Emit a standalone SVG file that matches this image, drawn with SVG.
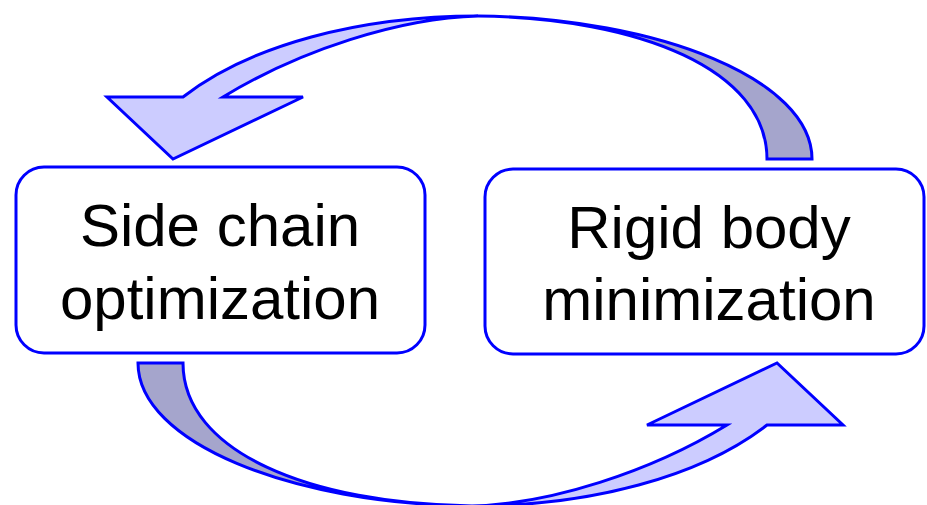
<svg xmlns="http://www.w3.org/2000/svg" width="927" height="505" viewBox="0 0 927 505">
<style>
.box{fill:#ffffff;stroke:#0000ff;stroke-width:3}
.lbl{font-family:"Liberation Sans",Arial,sans-serif;font-size:60px;fill:#000000;text-anchor:middle}
.light{fill:#ccccff;stroke:#0000ff;stroke-width:3;stroke-linejoin:miter}
.dark{fill:#a5a5cc;stroke:#0000ff;stroke-width:3;stroke-linejoin:miter}
</style>
<defs>
<g id="cyc">
<path class="dark" d="M478,16 C660,18 812,80 812,159 L767,159 C767,70 640,18 478,16 Z"/>
<path class="light" d="M183,97 C250,45 360,16 478,16 C400,18 300,50 223,97 L303,97 L173,159 L107,97 Z"/>
</g>
</defs>
<rect width="927" height="505" fill="#ffffff"/>
<g id="connectors">
<use href="#cyc"/>
<use href="#cyc" transform="rotate(180 475 261)"/>
</g>
<g id="side-chain">
<rect class="box" x="16" y="167" width="409" height="186" rx="28"/>
<text class="lbl" x="220" y="246">Side chain</text>
<text class="lbl" x="220" y="319">optimization</text>
</g>
<g id="rigid-body">
<rect class="box" x="485" y="169" width="439" height="185" rx="28"/>
<text class="lbl" x="709" y="248">Rigid body</text>
<text class="lbl" x="709" y="320">minimization</text>
</g>
</svg>
